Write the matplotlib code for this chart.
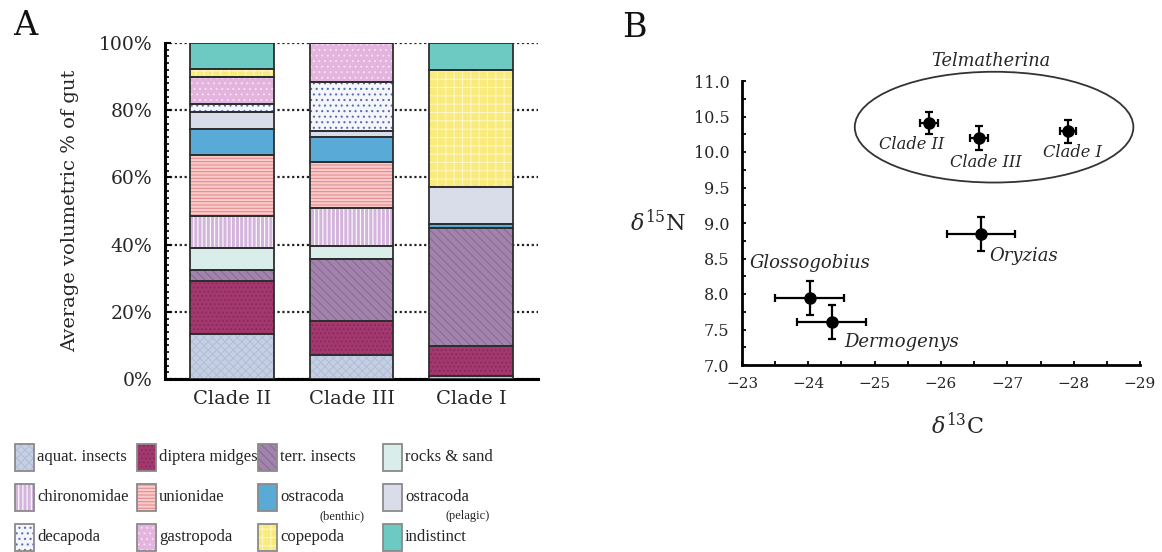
import matplotlib
matplotlib.use("Agg")
import matplotlib.pyplot as plt
import numpy as np
from matplotlib.patches import Rectangle, Ellipse
from matplotlib.ticker import MultipleLocator

plt.rcParams['font.family'] = ['DejaVu Serif']
plt.rcParams['mathtext.fontset'] = 'dejavuserif'
plt.rcParams['hatch.linewidth'] = 0.8

# ---------------- Panel A data ----------------
clades = ["Clade II", "Clade III", "Clade I"]
categories = ["aquat. insects", "diptera midges", "terr. insects", "rocks & sand",
              "chironomidae", "unionidae", "ostracoda", "ostracoda",
              "decapoda", "gastropoda", "copepoda", "indistinct"]
sublabels = ["", "", "", "", "", "", "(benthic)", "(pelagic)", "", "", "", ""]
# percentages per category, order: Clade II, Clade III, Clade I
aquat_insects = [13.5, 7.2, 0.8]
diptera_midges = [15.6, 10.2, 9.1]
terr_insects = [3.4, 18.3, 35.0]
rocks_sand = [6.5, 3.8, 0.0]
chironomidae = [9.4, 11.4, 0.0]
unionidae = [18.2, 13.7, 0.0]
ostracoda_benthic = [7.9, 7.3, 1.2]
ostracoda_pelagic = [4.9, 1.8, 11.0]
decapoda = [2.5, 14.7, 0.0]
gastropoda = [8.0, 11.6, 0.0]
copepoda = [2.4, 0.0, 34.8]
indistinct = [7.7, 0.0, 8.1]
series = [aquat_insects, diptera_midges, terr_insects, rocks_sand, chironomidae,
          unionidae, ostracoda_benthic, ostracoda_pelagic, decapoda, gastropoda,
          copepoda, indistinct]

face_colors = ["#c6d0e4", "#a3386e", "#a283ab", "#d9eeea", "#d4b4dc", "#f8cccc",
               "#5aaad8", "#d9dde9", "#f4f6fb", "#e2b4de", "#f9ea7c", "#6ccac2"]
hatch_colors = ["#b4bfd8", "#8a2a5a", "#8c6a96", "#c8e0dc", "#ffffff", "#e88c8c",
                "#4e9cca", "#d9dde9", "#5a70b0", "#f4dcf2", "#fdf6c8", "#6ccac2"]
hatches = ["xxxx", "....", "\\\\\\\\", "", "||||", "-----", "", "", "...", "...", "++", ""]

# ---------------- Panel B data ----------------
species = ["Clade II", "Clade III", "Clade I", "Oryzias", "Glossogobius", "Dermogenys"]
d13C = [-25.82, -26.57, -27.92, -26.60, -24.02, -24.35]
d13C_err = [0.13, 0.14, 0.12, 0.51, 0.52, 0.52]
d15N = [10.41, 10.20, 10.29, 8.84, 7.95, 7.61]
d15N_err = [0.16, 0.17, 0.16, 0.24, 0.24, 0.24]
label_x = [-25.56, -26.68, -27.98, -27.25, -24.02, -25.40]
label_y = [10.10, 9.85, 9.99, 8.54, 8.43, 7.33]
label_size = [11.7, 11.7, 11.7, 13, 13, 13]

W, H = 1162, 552
fig = plt.figure(figsize=(W / 100, H / 100), dpi=100)

def px_axes(l, t, r, b):
    return fig.add_axes([l / W, 1 - b / H, (r - l) / W, (b - t) / H])

TXT = '#262626'

# ---------------- Panel A ----------------
axA = px_axes(165, 43, 538, 379)
x = np.arange(len(clades))
bw = 0.70
bottom = np.zeros(len(clades))
for vals, fc, hc, h in zip(series, face_colors, hatch_colors, hatches):
    vals = np.array(vals, dtype=float)
    axA.bar(x, vals, bw, bottom=bottom, color=fc, edgecolor=hc, hatch=h,
            linewidth=0, zorder=3)
    axA.bar(x, vals, bw, bottom=bottom, fill=False, edgecolor="#2e2e2e",
            linewidth=1.3, zorder=4)
    bottom += vals

axA.set_xlim(-0.56, 2.56)
axA.set_ylim(0, 100)
axA.set_xticks(x)
axA.set_xticklabels(clades, fontsize=14, color=TXT)
axA.set_yticks(np.arange(0, 101, 20))
axA.set_yticklabels([f"{v}%" for v in range(0, 101, 20)], fontsize=13.5, color=TXT)
axA.yaxis.set_minor_locator(MultipleLocator(2))
axA.tick_params(axis='y', which='major', direction='in', length=4, width=1.5, pad=9)
axA.tick_params(axis='y', which='minor', direction='in', length=3, width=1.2)
axA.tick_params(axis='x', which='major', direction='in', length=4, width=1.5, pad=8)
for sp in ['top', 'right']:
    axA.spines[sp].set_visible(False)
for sp in ['left', 'bottom']:
    axA.spines[sp].set_linewidth(2.2)
axA.yaxis.grid(True, linestyle=(0, (1, 1.2)), color='#222222', linewidth=1.6, zorder=1)
axA.set_axisbelow(True)
axA.set_ylabel("Average volumetric % of gut", fontsize=14, labelpad=14, color=TXT)

# ---------------- Panel B ----------------
axB = px_axes(742, 81, 1140, 365)
axB.errorbar(d13C, d15N, xerr=d13C_err, yerr=d15N_err, fmt='o', color='black',
             markersize=8, elinewidth=1.6, capsize=3, capthick=1.6, zorder=3)
for name, lx, ly, fs in zip(species, label_x, label_y, label_size):
    axB.text(lx, ly, name, fontsize=fs, style='italic', ha='center', va='center',
             color=TXT)
ell = Ellipse((-26.80, 10.35), 4.2, 1.56, fill=False, edgecolor='#333333',
              linewidth=1.3, clip_on=False)
axB.add_patch(ell)
axB.text(-26.75, 11.28, "Telmatherina", fontsize=12.8, style='italic', ha='center',
         va='center', color=TXT)
axB.set_xlim(-23, -29)
axB.set_ylim(7, 11)
axB.set_xticks(np.arange(-23, -30, -1))
axB.set_xticklabels([f"\u2212{abs(v)}" for v in range(-23, -30, -1)], fontsize=11, color=TXT)
axB.set_yticks(np.arange(7, 11.01, 0.5))
axB.set_yticklabels([f"{v:.1f}" for v in np.arange(7, 11.01, 0.5)], fontsize=11.5, color=TXT)
axB.xaxis.set_minor_locator(MultipleLocator(0.5))
axB.yaxis.set_minor_locator(MultipleLocator(0.25))
axB.tick_params(which='both', direction='in', length=3, width=1.3, pad=9)
for sp in ['top', 'right']:
    axB.spines[sp].set_visible(False)
for sp in ['left', 'bottom']:
    axB.spines[sp].set_linewidth(2.0)

# ---------------- overlay: panel letters, axis titles of B, legend ----------------
ov = fig.add_axes([0, 0, 1, 1], facecolor='none')
ov.set_xlim(0, W)
ov.set_ylim(H, 0)
ov.axis('off')
ov.text(13, 26, "A", fontsize=24, va='center', ha='left', color='#111111')
ov.text(622, 28, "B", fontsize=24, va='center', ha='left', color='#111111')
ov.text(658, 223, r"$\delta^{15}$N", fontsize=16, va='center', ha='center', color=TXT)
ov.text(958, 426, r"$\delta^{13}$C", fontsize=16, va='center', ha='center', color=TXT)

LEG_FONT = ['Liberation Serif', 'DejaVu Serif']
col_x = [15, 137, 258, 383]
row_y = [457, 497, 537]
for i, (cat, sub, fc, hc, h) in enumerate(zip(categories, sublabels, face_colors,
                                                hatch_colors, hatches)):
    r, c = divmod(i, 4)
    px, py = col_x[c], row_y[r]
    ov.add_patch(Rectangle((px, py - 13.5), 19, 27, facecolor=fc, edgecolor=hc,
                           hatch=h, linewidth=0))
    ov.add_patch(Rectangle((px, py - 13.5), 19, 27, fill=False, edgecolor='#8a8a8a',
                           linewidth=1.3))
    ov.text(px + 22, py, cat, fontsize=12, va='center', ha='left', color=TXT,
            family=LEG_FONT)
    if sub:
        ov.text(px + 107, py + 19, sub, fontsize=9, va='center', ha='right',
                color=TXT, family=LEG_FONT)

fig.savefig("out.png", dpi=100)
